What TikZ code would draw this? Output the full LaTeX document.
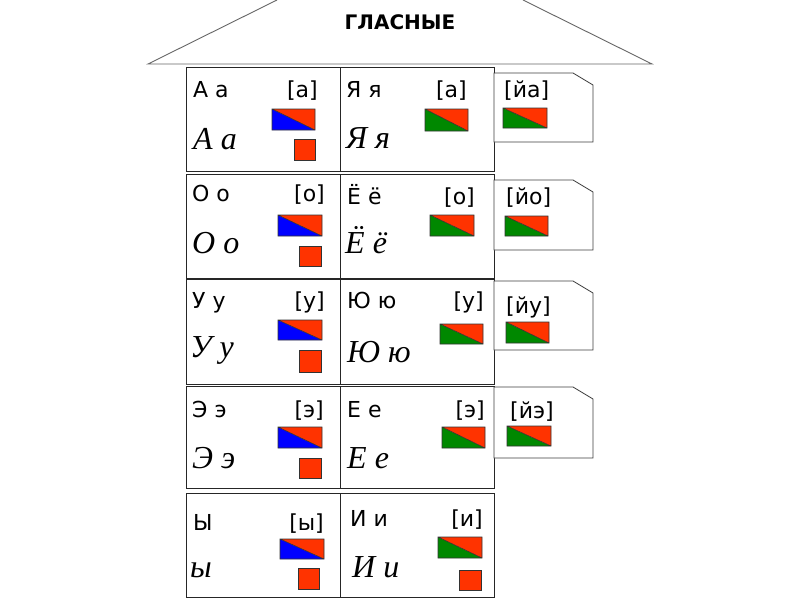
\documentclass[tikz,border=0pt]{standalone}
\usepackage{fontspec}
\newfontfamily\labfont{DejaVu Sans}
\newfontfamily\curfont{Liberation Serif}
\definecolor{vred}{RGB}{255,51,0}
\definecolor{vblue}{RGB}{0,0,255}
\definecolor{vgreen}{RGB}{0,136,0}
\tikzset{
  rowbox/.style={draw=black!85, line width=0.8pt},
  roofline/.style={draw=black!60, line width=0.9pt},
  tabbox/.style={draw=black!75, line width=0.8pt, fill=white},
  barline/.style={draw=black!80, line width=0.6pt},
  lbl/.style={font=\labfont\fontsize{22}{22}\selectfont, anchor=base west, inner sep=0pt},
  snd/.style={font=\labfont\fontsize{22}{22}\selectfont, anchor=base east, inner sep=0pt},
  tsnd/.style={font=\labfont\fontsize{22}{22}\selectfont, anchor=base west, inner sep=0pt},
  cur/.style={font=\curfont\itshape\fontsize{32}{32}\selectfont, anchor=base west, inner sep=0pt},
  ttl/.style={font=\labfont\bfseries\fontsize{20}{20}\selectfont, inner sep=0pt}
}
\newcommand\vowbar[5]{%
  \fill[#5] (#1,#2) -- (#1,#4) -- (#3,#4) -- cycle;
  \fill[vred] (#1,#2) -- (#3,#2) -- (#3,#4) -- cycle;
  \draw[barline] (#1,#2) rectangle (#3,#4) (#1,#2) -- (#3,#4);}
\newcommand\vowsq[4]{\filldraw[fill=vred, barline] (#1,#2) rectangle (#3,#4);}
\newcommand\vowtab[2]{%
  \draw[tabbox] (494,#1) -- (573,#1) -- (593,#1+12) -- (593,#2) -- (494,#2) -- cycle;}
\begin{document}
\begin{tikzpicture}[x=1pt,y=-1pt]
\useasboundingbox[fill=white] (0,0) rectangle (800,600);
% roof
\draw[roofline] (277,0) -- (148,64) -- (652,64) -- (523,0);
\node[ttl] (title) at (400,22) {ГЛАСНЫЕ};
% rows
\draw[rowbox] (186,67) rectangle (494,171) (340,67) -- (340,171);
\draw[rowbox] (186,174) rectangle (494,278) (340,174) -- (340,278);
\draw[rowbox] (186,279) rectangle (494,384) (340,279) -- (340,384);
\draw[rowbox] (186,386) rectangle (494,488) (340,386) -- (340,488);
\draw[rowbox] (186,493) rectangle (494,597) (340,493) -- (340,597);
% tabs
\vowtab{73}{142}
\vowtab{180}{250}
\vowtab{281}{350}
\vowtab{387}{458}
% row 1
\node[lbl] (a1) at (193,97) {А а};
\node[snd] (a2) at (318,97) {[а]};
\node[cur] (a3) at (193,149) {А а};
\vowbar{272}{109}{315}{130}{vblue}
\vowsq{294}{139}{315}{160}
\node[lbl] (ya1) at (346,97) {Я я};
\node[snd] (ya2) at (467,97) {[а]};
\node[cur] (ya3) at (346,148) {Я я};
\vowbar{425}{109}{468}{131}{vgreen}
\node[tsnd] (ya4) at (504,97) {[йа]};
\vowbar{503}{108}{547}{128}{vgreen}
% row 2
\node[lbl] (o1) at (192,201) {О о};
\node[snd] (o2) at (325,201) {[о]};
\node[cur] (o3) at (192,253) {О о};
\vowbar{278}{215}{322}{236}{vblue}
\vowsq{299}{246}{321}{266}
\node[lbl] (yo1) at (347,204) {Ё ё};
\node[snd] (yo2) at (475,204) {[о]};
\node[cur] (yo3) at (345,253) {Ё ё};
\vowbar{430}{215}{474}{236}{vgreen}
\node[tsnd] (yo4) at (506,204) {[йо]};
\vowbar{505}{216}{548}{236}{vgreen}
% row 3
\node[lbl] (u1) at (192,308) {У у};
\node[snd] (u2) at (325,308) {[у]};
\node[cur] (u3) at (190,357) {У у};
\vowbar{278}{320}{322}{340}{vblue}
\vowsq{299}{350}{321}{372}
\node[lbl] (yu1) at (347,308) {Ю ю};
\node[snd] (yu2) at (484,308) {[у]};
\node[cur] (yu3) at (347,362) {Ю ю};
\vowbar{440}{324}{483}{344}{vgreen}
\node[tsnd] (yu4) at (506,313) {[йу]};
\vowbar{506}{322}{549}{343}{vgreen}
% row 4
\node[lbl] (e1) at (192,417) {Э э};
\node[snd] (e2) at (324,417) {[э]};
\node[cur] (e3) at (192,468) {Э э};
\vowbar{278}{427}{322}{448}{vblue}
\vowsq{299}{458}{321}{478}
\node[lbl] (ye1) at (347,417) {Е е};
\node[snd] (ye2) at (485,417) {[э]};
\node[cur] (ye3) at (347,468) {Е е};
\vowbar{442}{427}{485}{448}{vgreen}
\node[tsnd] (ye4) at (510,418) {[йэ]};
\vowbar{507}{426}{551}{446}{vgreen}
% row 5
\node[lbl] (y1) at (193,530) {Ы};
\node[snd] (y2) at (324,530) {[ы]};
\node[cur] (y3) at (190,577) {ы};
\vowbar{280}{539}{324}{559}{vblue}
\vowsq{298}{568}{319}{589}
\node[lbl] (i1) at (350,526) {И и};
\node[snd] (i2) at (483,526) {[и]};
\node[cur] (i3) at (352,577) {И и};
\vowbar{438}{537}{482}{558}{vgreen}
\vowsq{459}{570}{481}{590}
\end{tikzpicture}
\end{document}
